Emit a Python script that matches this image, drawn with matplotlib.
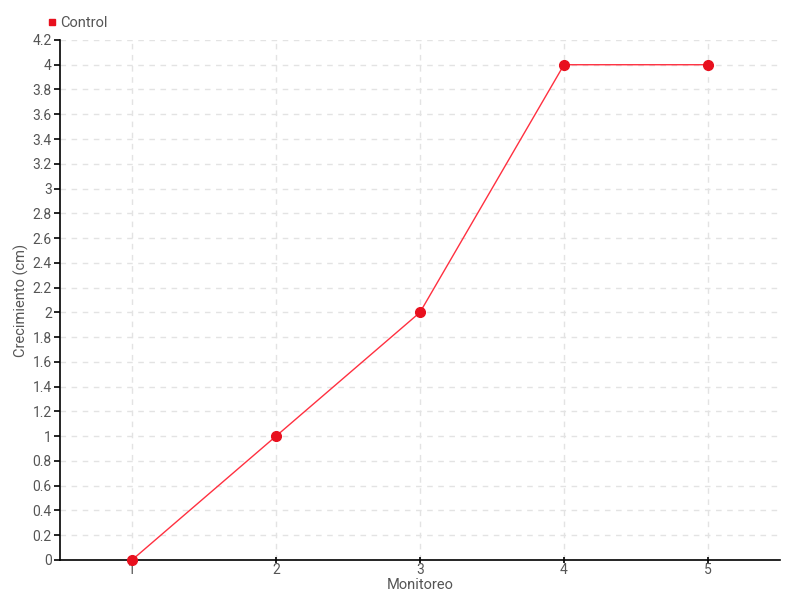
import matplotlib.pyplot as plt
from matplotlib.lines import Line2D
import numpy as np

plt.rcParams['font.family'] = ['Roboto', 'DejaVu Sans']

monitoreo = [1, 2, 3, 4, 5]
control = [0, 1, 2, 4, 4]
y_ticks = [0, 0.2, 0.4, 0.6, 0.8, 1, 1.2, 1.4, 1.6, 1.8, 2, 2.2, 2.4, 2.6, 2.8,
           3, 3.2, 3.4, 3.6, 3.8, 4, 4.2]

text_color = '#555555'
red = '#e8101e'

fig = plt.figure(figsize=(8, 6), dpi=100)
ax = fig.add_axes([0.075, 0.0667, 0.9, 0.8667])

ax.plot(monitoreo, control, color='#ff3040', lw=1, zorder=3)
ax.plot(monitoreo, control, 'o', color=red, ms=7, zorder=4, clip_on=False)

ax.set_xlim(0.5, 5.5)
ax.set_ylim(0, 4.2)
ax.set_xticks(monitoreo)
ax.set_yticks(y_ticks)
ax.set_yticklabels([('%g' % v) for v in y_ticks])

ax.grid(True, color='#e3e3e3', linestyle=(0, (4, 4)), lw=1)
ax.set_axisbelow(True)
for s in ['top', 'right']:
    ax.spines[s].set_visible(False)
ax.spines['left'].set_linewidth(1.2)
ax.spines['bottom'].set_linewidth(1.2)
ax.tick_params(axis='both', colors='black', labelcolor=text_color,
               labelsize=10, length=4, width=1.2)
ax.tick_params(axis='y', pad=2)
ax.tick_params(axis='x', direction='inout', pad=0)

ax.set_xlabel('Monitoreo', color=text_color, fontsize=10.5)
ax.xaxis.set_label_coords(0.5, -0.034)
ax.set_ylabel('Crecimiento (cm)', color=text_color, fontsize=10.5)
ax.yaxis.set_label_coords(-0.043, 0.5)

handle = Line2D([], [], marker='s', color=red, ls='none', ms=5)
fig.legend([handle], ['Control'], loc='upper left', bbox_to_anchor=(0.04, 0.995),
           frameon=False, handletextpad=0.0, fontsize=10.5, labelcolor=text_color,
           handlelength=1)

fig.savefig('out.png', dpi=100)
